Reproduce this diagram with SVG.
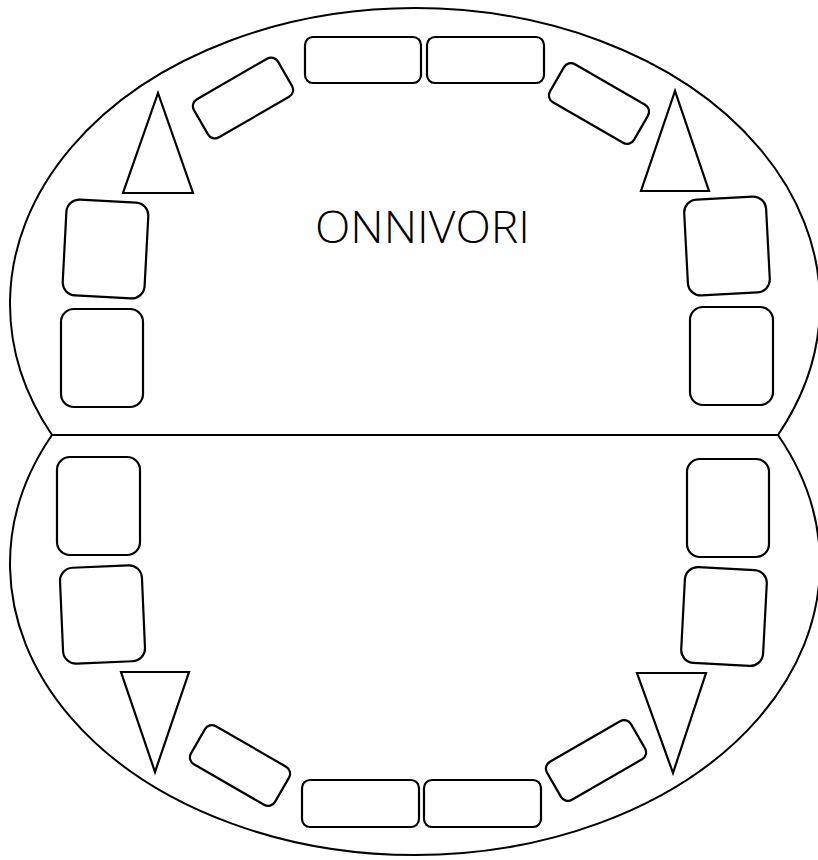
<svg xmlns="http://www.w3.org/2000/svg" width="818" height="860" viewBox="0 0 818 860">
<style>
.o{fill:none;stroke:#000;stroke-width:2}
.s{fill:#fff;stroke:#000;stroke-width:2.2}
.t{font-family:"Open Sans","Liberation Sans",sans-serif;font-size:45px;font-weight:350;fill:#000}
</style>
<rect width="818" height="860" fill="#fff"/>
<g id="outline">
<path class="o" d="M52,435 A405 295.8 0 1 1 778,435"/>
<path class="o" d="M52,435 A405 291 0 1 0 778,435"/>
<line class="o" x1="52" y1="435" x2="778" y2="435"/>
</g>
<g id="title"><text class="t" x="315" y="243" textLength="215" lengthAdjust="spacingAndGlyphs">ONNIVORI</text></g>
<g id="top-rect-1"><rect class="s" x="305" y="37" width="116" height="46" rx="8"/></g>
<g id="top-rect-2"><rect class="s" x="427" y="37" width="117" height="46" rx="8"/></g>
<g id="bottom-rect-1"><rect class="s" x="302" y="780" width="117" height="47" rx="8"/></g>
<g id="bottom-rect-2"><rect class="s" x="424" y="780" width="117" height="47" rx="8"/></g>
<g id="tilt-tl" transform="translate(243,98) rotate(-30)"><rect class="s" x="-48.5" y="-22" width="97" height="44" rx="8"/></g>
<g id="tilt-tr" transform="translate(599,103.5) rotate(30)"><rect class="s" x="-48.5" y="-22" width="97" height="44" rx="8"/></g>
<g id="tilt-bl" transform="translate(240,765.5) rotate(30)"><rect class="s" x="-48.5" y="-22" width="97" height="44" rx="8"/></g>
<g id="tilt-br" transform="translate(596,760.5) rotate(-30)"><rect class="s" x="-48.5" y="-22" width="97" height="44" rx="8"/></g>
<g id="tri-tl"><polygon class="s" points="158,93 123,193 193,193"/></g>
<g id="tri-tr"><polygon class="s" points="675,91 641,191 709,191"/></g>
<g id="tri-bl"><polygon class="s" points="121,672 189,672 155,772"/></g>
<g id="tri-br"><polygon class="s" points="637,673 706,673 673,773"/></g>
<g id="sq-l1" transform="translate(105.5,249) rotate(3)"><rect class="s" x="-41" y="-48" width="82" height="96" rx="13"/></g>
<g id="sq-l2"><rect class="s" x="61" y="309" width="82" height="98" rx="13"/></g>
<g id="sq-l3"><rect class="s" x="57" y="457" width="83" height="98" rx="13"/></g>
<g id="sq-l4" transform="translate(102.5,614.5) rotate(-2.5)"><rect class="s" x="-41" y="-48" width="82" height="96" rx="13"/></g>
<g id="sq-r1" transform="translate(727,246) rotate(-3)"><rect class="s" x="-41" y="-48" width="82" height="96" rx="13"/></g>
<g id="sq-r2"><rect class="s" x="690" y="307" width="83" height="98" rx="13"/></g>
<g id="sq-r3"><rect class="s" x="687" y="459" width="82" height="98" rx="13"/></g>
<g id="sq-r4" transform="translate(724,616.5) rotate(3)"><rect class="s" x="-41" y="-48" width="82" height="96" rx="13"/></g>
</svg>
